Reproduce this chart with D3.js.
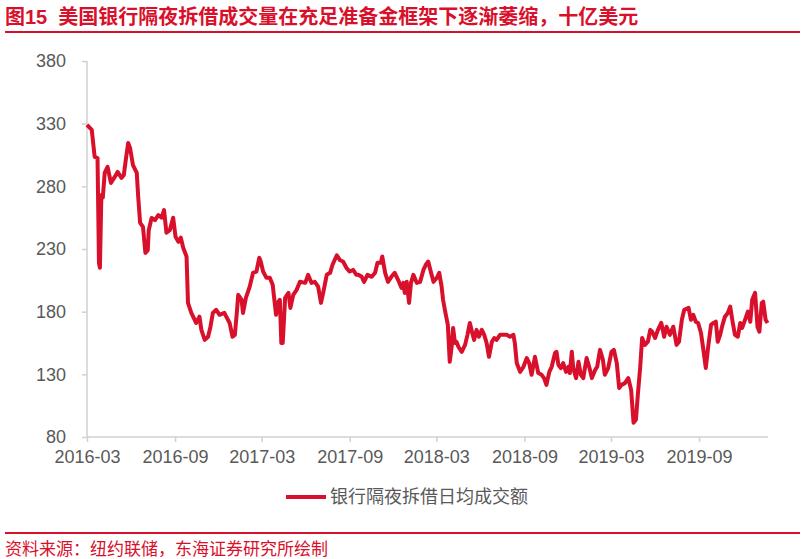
<!DOCTYPE html>
<meta charset="utf-8">
<script src="https://cdn.jsdelivr.net/npm/d3@7"></script>
<style>
body { margin: 0; background: #fff; }
text { font-family: "Liberation Sans", Arial, "Noto Sans CJK SC", sans-serif; }
.cjk { font-family: "Liberation Sans", "Noto Sans CJK SC", sans-serif; white-space: pre; }
.axis path, .axis line { stroke: #d0d0d0; stroke-width: 1.5; }
.axis text { fill: #595959; font-size: 18px; }
</style>
<body>
<div id="chart"></div>
<script>
var dates = [
  "2016-03-01","2016-03-11","2016-03-17","2016-03-23","2016-03-26","2016-03-28","2016-03-31","2016-04-03",
  "2016-04-07","2016-04-13","2016-04-20","2016-04-28","2016-05-04","2016-05-12","2016-05-17","2016-05-21",
  "2016-05-26","2016-05-30","2016-06-05","2016-06-13","2016-06-16","2016-06-20","2016-06-26","2016-07-01",
  "2016-07-06","2016-07-08","2016-07-14","2016-07-21","2016-07-28","2016-08-04","2016-08-09","2016-08-14",
  "2016-08-21","2016-08-28","2016-09-02","2016-09-08","2016-09-13","2016-09-18","2016-09-25","2016-09-28",
  "2016-10-05","2016-10-10","2016-10-15","2016-10-22","2016-10-26","2016-11-02","2016-11-09","2016-11-14",
  "2016-11-19","2016-11-26","2016-12-03","2016-12-13","2016-12-17","2016-12-24","2016-12-30","2017-01-04",
  "2017-01-08","2017-01-11","2017-01-18","2017-01-21","2017-01-27","2017-02-04","2017-02-11","2017-02-18",
  "2017-02-24","2017-02-27","2017-03-04","2017-03-11","2017-03-18","2017-03-24","2017-03-31","2017-04-05",
  "2017-04-08","2017-04-11","2017-04-14","2017-04-19","2017-04-26","2017-04-30","2017-05-06","2017-05-13",
  "2017-05-20","2017-05-31","2017-06-06","2017-06-13","2017-06-20","2017-06-27","2017-07-03","2017-07-08",
  "2017-07-15","2017-07-22","2017-07-27","2017-08-05","2017-08-12","2017-08-18","2017-08-25","2017-09-01",
  "2017-09-08","2017-09-15","2017-09-19","2017-09-26","2017-10-01","2017-10-08","2017-10-17","2017-10-24",
  "2017-10-29","2017-11-05","2017-11-08","2017-11-14","2017-11-20","2017-11-27","2017-12-04","2017-12-11",
  "2017-12-18","2017-12-22","2017-12-25","2017-12-29","2018-01-03","2018-01-07","2018-01-12","2018-01-19",
  "2018-01-26","2018-02-02","2018-02-07","2018-02-12","2018-02-18","2018-02-23","2018-03-02","2018-03-07",
  "2018-03-12","2018-03-15","2018-03-20","2018-03-25","2018-03-29","2018-04-02","2018-04-05","2018-04-09",
  "2018-04-12","2018-04-16","2018-04-23","2018-04-30","2018-05-05","2018-05-10","2018-05-15","2018-05-19",
  "2018-05-24","2018-05-29","2018-06-04","2018-06-09","2018-06-14","2018-06-19","2018-06-25","2018-06-30",
  "2018-07-05","2018-07-12","2018-07-19","2018-07-26","2018-08-02","2018-08-09","2018-08-12","2018-08-16",
  "2018-08-23","2018-08-30","2018-09-06","2018-09-11","2018-09-16","2018-09-23","2018-09-30","2018-10-07",
  "2018-10-12","2018-10-17","2018-10-23","2018-10-28","2018-11-04","2018-11-07","2018-11-11","2018-11-16",
  "2018-11-21","2018-11-27","2018-12-02","2018-12-05","2018-12-09","2018-12-12","2018-12-18","2018-12-23",
  "2018-12-28","2019-01-02","2019-01-09","2019-01-15","2019-01-20","2019-01-27","2019-01-31","2019-02-06",
  "2019-02-12","2019-02-16","2019-02-23","2019-03-02","2019-03-07","2019-03-13","2019-03-18","2019-03-23",
  "2019-03-30","2019-04-06","2019-04-12","2019-04-17","2019-04-22","2019-04-26","2019-05-01","2019-05-05",
  "2019-05-11","2019-05-17","2019-05-22","2019-05-26","2019-06-01","2019-06-07","2019-06-14","2019-06-20",
  "2019-06-25","2019-07-02","2019-07-09","2019-07-16","2019-07-21","2019-07-27","2019-08-01","2019-08-10",
  "2019-08-15","2019-08-20","2019-08-25","2019-08-30","2019-09-05","2019-09-10","2019-09-15","2019-09-20",
  "2019-09-26","2019-10-01","2019-10-06","2019-10-10","2019-10-15","2019-10-20","2019-10-25","2019-10-31",
  "2019-11-05","2019-11-10","2019-11-15","2019-11-21","2019-11-26","2019-11-30","2019-12-06","2019-12-12",
  "2019-12-17","2019-12-21","2019-12-27","2020-01-01","2020-01-05","2020-01-10","2020-01-13","2020-01-18",
  "2020-01-22"
];
var volume = [
  329,325,303.5,302.6,219,215,273,271,
  290.7,295.5,282.7,287.5,291.5,286.7,289,301,
  314.6,310.6,297,290.7,271.6,250.8,247.6,226.9,
  229,245,254.8,253,257,255,261,243,
  245,255,239.7,235.7,239,231,224,187,
  179,175,171,176,165.5,157.5,160,168,
  179,181.5,177.5,179,176,171,160,161.5,
  179,193.4,189.5,179,191,200,211,212,
  223,220,212,207,207,201.5,177.5,188,
  189.5,155,155,191,195,183,193.4,197.4,
  203.8,203,209.4,203,203.8,200,187,196,
  209.4,211,217.4,225,221,220,215,212,
  213.3,209.4,209.4,207.8,203.8,209.4,207.8,211,
  219,219,224,211,203.8,207.8,211,205.4,
  199,203,195,203.8,187,203,209.4,203,
  203.8,213.3,217.4,220,211,203.8,207,211,
  200,189.5,179,169.5,140,152,167,155,
  156,152,148,153.5,161.5,171,163,157.5,
  165.5,160,165.5,161.5,155,144,156,159,
  157.5,161.5,161.5,161.5,160,161.5,155,139,
  132,136,143,139,129.6,144,131,129.6,
  127,121.6,132,136,147,148,137.6,135,
  139,132,136,131,148,135,127,140,
  129.6,127,143,135,127,133.6,136,149.5,
  141.6,129.6,135,148,149.5,139,119,121.6,
  123,127,117.6,91.4,93.7,113.6,136,159,
  153.5,156,165.5,164,159,165.5,171,160,
  168,161.5,168,153.5,156,173.5,181.5,183,
  173.5,177.5,172,171,163,149.5,135,152,
  169.5,171,172,156,161.5,169.5,176,179,
  184,172,161.5,160,171,167,173.5,180,
  172,189.5,195,168,164,187,188,173.5,
  171
];
var yTicks = [80, 130, 180, 230, 280, 330, 380];
var xTicks = ["2016-03","2016-09","2017-03","2017-09","2018-03","2018-09","2019-03","2019-09"];
var title = "图15  美国银行隔夜拆借成交量在充足准备金框架下逐渐萎缩，十亿美元";
var seriesName = "银行隔夜拆借日均成交额";
var source = "资料来源：纽约联储，东海证券研究所绘制";

var W = 805, H = 559;
var margin = {top: 61, right: 37, bottom: 122, left: 87};
var red = "#d9102b";

var parse = d3.timeParse("%Y-%m-%d");
var parseM = d3.timeParse("%Y-%m");
var data = dates.map(function(d, i){ return {date: parse(d), value: volume[i]}; });

var svg = d3.select("#chart").append("svg")
  .attr("width", W).attr("height", H);

var x = d3.scaleTime()
  .domain([parse("2016-03-01"), parse("2020-01-23")])
  .range([margin.left, W - margin.right]);
var y = d3.scaleLinear()
  .domain([80, 380])
  .range([H - margin.bottom, margin.top]);

// title
svg.append("text")
  .attr("class", "cjk")
  .attr("x", 5).attr("y", 24)
  .attr("fill", red)
  .attr("font-size", "20px")
  .attr("font-weight", "bold")
  .text(title);
svg.append("line")
  .attr("x1", 5).attr("x2", 800).attr("y1", 32).attr("y2", 32)
  .attr("stroke", red).attr("stroke-width", 2);

// axes
var yAxis = d3.axisLeft(y).tickValues(yTicks).tickSize(5).tickPadding(16);
svg.append("g").attr("class", "axis")
  .attr("transform", "translate(" + margin.left + ",0)")
  .call(yAxis)
  .call(function(g){ g.select(".domain").attr("d", "M0," + margin.top + "V" + (H - margin.bottom)); });

var xAxis = d3.axisBottom(x).tickValues(xTicks.map(parseM))
  .tickFormat(d3.timeFormat("%Y-%m")).tickSize(5).tickPadding(8);
svg.append("g").attr("class", "axis")
  .attr("transform", "translate(0," + (H - margin.bottom) + ")")
  .call(xAxis)
  .call(function(g){ g.select(".domain").attr("d", "M" + margin.left + ",0H" + (W - margin.right)); });

// line
var line = d3.line()
  .x(function(d){ return x(d.date); })
  .y(function(d){ return y(d.value); });
svg.append("path")
  .datum(data)
  .attr("d", line)
  .attr("fill", "none")
  .attr("stroke", red)
  .attr("stroke-width", 4)
  .attr("stroke-linejoin", "round");

// legend
var lg = svg.append("g").attr("transform", "translate(286,497)");
lg.append("line").attr("x1", 0).attr("x2", 40).attr("y1", 0).attr("y2", 0)
  .attr("stroke", red).attr("stroke-width", 4);
lg.append("text").attr("class", "cjk")
  .attr("x", 44).attr("y", 0).attr("dy", "0.35em")
  .attr("fill", "#595959").attr("font-size", "18px")
  .text(seriesName);

// source footer
svg.append("line")
  .attr("x1", 5).attr("x2", 800).attr("y1", 533).attr("y2", 533)
  .attr("stroke", red).attr("stroke-width", 2);
svg.append("text").attr("class", "cjk")
  .attr("x", 5).attr("y", 555)
  .attr("fill", red).attr("font-size", "17px")
  .text(source);
</script>
</body>
